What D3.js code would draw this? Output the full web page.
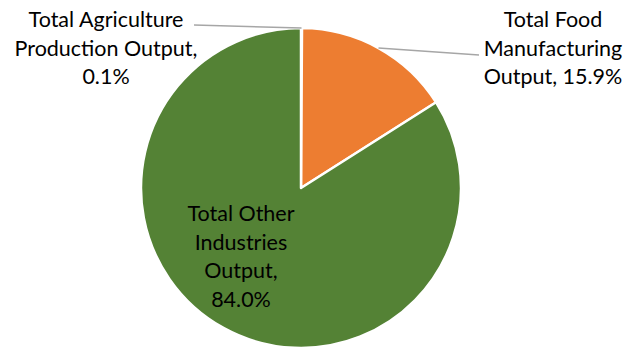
<!DOCTYPE html>
<html><head><meta charset="utf-8">
<script src="https://cdn.jsdelivr.net/npm/d3@7"></script>
<style>html,body{margin:0;padding:0;background:#fff;}svg{display:block;}</style>
</head><body>
<svg id="c" width="626" height="348"></svg>
<script>
const categories = ["Total Agriculture Production Output", "Total Food Manufacturing Output", "Total Other Industries Output"];
const values = [0.1, 15.9, 84.0];
const labelLines = [
  ["Total Agriculture", "Production Output,", "0.1%"],
  ["Total Food", "Manufacturing", "Output, 15.9%"],
  ["Total Other", "Industries", "Output,", "84.0%"]
];
const colors = ["#4472C4", "#ED7D31", "#548235"];

const svg = d3.select("#c");
const cx = 301, cy = 188, R = 160;
const font = "Lato, 'Open Sans', sans-serif";
const fs = 21.5, lh = 28.5;

const pie = d3.pie().sort(null).value(d => d);
const arcs = pie(values);
const arc = d3.arc().innerRadius(0).outerRadius(R);
const g = svg.append("g").attr("transform", `translate(${cx},${cy})`);
g.selectAll("path").data(arcs).join("path")
  .attr("d", arc).attr("fill", (d, i) => colors[i])
  .attr("stroke", "#fff").attr("stroke-width", 2.5).attr("stroke-linejoin", "round");

// label anchor positions (centers of text blocks, first baseline)
const labelPos = [
  {x: 106, y: 27, ax: 194, ay: 25},
  {x: 553, y: 27, ax: 479, ay: 55},
  {x: 241, y: 221}
];
arcs.forEach((a, i) => {
  const p = labelPos[i];
  if (p.ax !== undefined) {
    const mid = (a.startAngle + a.endAngle) / 2;
    const ex = cx + R * Math.sin(mid), ey = cy - R * Math.cos(mid);
    svg.append("line").attr("x1", p.ax).attr("y1", p.ay).attr("x2", ex).attr("y2", ey)
      .attr("stroke", "#A6A6A6").attr("stroke-width", 1.5);
  }
  const t = svg.append("text").attr("text-anchor", "middle")
    .attr("font-family", font).attr("font-size", fs).attr("fill", "#000");
  labelLines[i].forEach((s, k) => {
    t.append("tspan").attr("x", p.x).attr("y", p.y + k * lh).text(s);
  });
});
</script>
</body></html>
